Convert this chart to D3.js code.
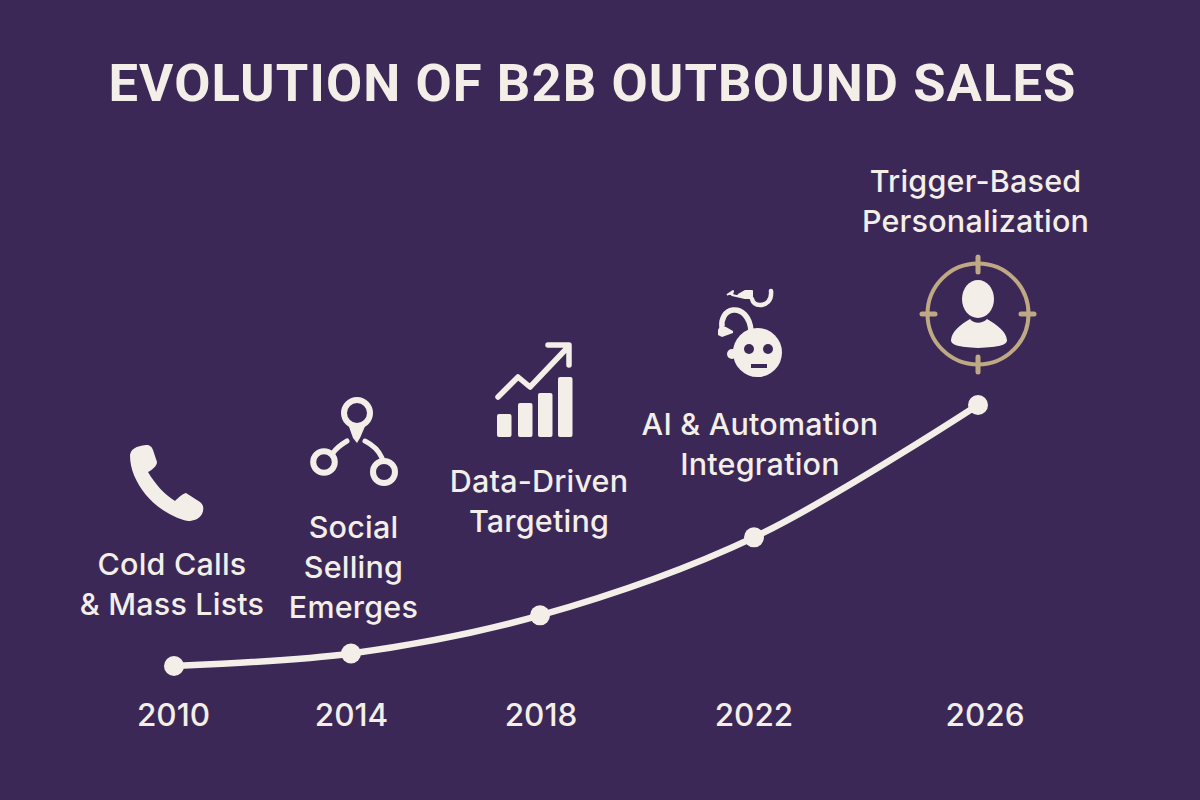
<!DOCTYPE html>
<html>
<head>
<meta charset="utf-8">
<script src="https://cdn.jsdelivr.net/npm/d3@7"></script>
<style>
html, body { margin: 0; padding: 0; background: #3b2857; }
text { font-family: "Inter", "Noto Sans", sans-serif; fill: #f3efe8; }
</style>
</head>
<body>
<div id="vis"></div>
<script>
const title = "EVOLUTION OF B2B OUTBOUND SALES";
const years = [2010, 2014, 2018, 2022, 2026];
// adoption level, 0 - 100
const levels = [0, 4.8, 19.4, 49.3, 100];
const labels = [
  ["Cold Calls", "& Mass Lists"],
  ["Social", "Selling", "Emerges"],
  ["Data-Driven", "Targeting"],
  ["AI & Automation", "Integration"],
  ["Trigger-Based", "Personalization"]
];
const labelX = [172, 353.5, 539, 760, 975.5];
const labelY = [564, 527, 481, 424, 181];
const tickX = [173.5, 351.5, 541, 754, 985];

const cream = "#f3efe8";
const tan = "#bfa983";
const bg = "#3b2857";

const svg = d3.select("#vis").append("svg")
  .attr("width", 1200).attr("height", 800)
  .style("display", "block");

svg.append("rect").attr("width", 1200).attr("height", 800).attr("fill", bg);

svg.append("text")
  .attr("x", 592.5).attr("y", 101)
  .attr("text-anchor", "middle")
  .style("font-family", "Roboto, Inter, sans-serif")
  .attr("font-size", 52.5).attr("font-weight", 700)
  .attr("letter-spacing", 1.1)
  .text(title);

// x is not linear in the years on the picture, so use a piecewise scale
const x = d3.scaleLinear().domain(years).range([174, 351, 540, 754, 978]);
const y = d3.scaleLinear().domain([0, 100]).range([666, 405]);

const line = d3.line()
  .x((d, i) => x(years[i]))
  .y(d => y(d))
  .curve(d3.curveCatmullRom.alpha(0.5));

svg.append("path")
  .attr("d", line(levels))
  .attr("fill", "none")
  .attr("stroke", cream)
  .attr("stroke-width", 6.5)
  .attr("stroke-linecap", "round");

svg.selectAll("circle.pt").data(levels).enter().append("circle")
  .attr("class", "pt")
  .attr("cx", (d, i) => x(years[i]))
  .attr("cy", d => y(d))
  .attr("r", 10)
  .attr("fill", cream);

// year labels
svg.selectAll("text.year").data(years).enter().append("text")
  .attr("class", "year")
  .attr("x", (d, i) => tickX[i])
  .attr("y", 726)
  .attr("text-anchor", "middle")
  .attr("font-size", 31.5)
  .attr("font-weight", 500)
  .text(d => d);

// milestone labels
labels.forEach((rows, i) => {
  rows.forEach((r, j) => {
    svg.append("text")
      .attr("x", labelX[i])
      .attr("y", labelY[i] + 11 + j * 40)
      .attr("text-anchor", "middle")
      .attr("font-size", 30.5)
      .attr("font-weight", 500)
      .attr("letter-spacing", 0.2)
      .text(r);
  });
});

// ---- icons ----

// phone
svg.append("path")
  .attr("d", "M130 455 C131 449 136 446 146 445 C150 445 152 447 153 450 L157 462 C157 466 152 470 148 472 C155 484 164 494 175 501 C178 498 182 494 186 493 L200 502 C204 505 204 510 202 514 C199 519 194 521 188 521 C172 518 155 506 146 495 C136 482 130 470 130 455 Z")
  .attr("fill", cream);

// social selling
const social = svg.append("g")
  .attr("fill", "none").attr("stroke", cream).attr("stroke-width", 6);
social.append("circle").attr("cx", 357).attr("cy", 413).attr("r", 13);
social.append("circle").attr("cx", 324).attr("cy", 462).attr("r", 10.8);
social.append("circle").attr("cx", 384).attr("cy", 472).attr("r", 11);
social.append("path").attr("d", "M333 453 C337 447 342 444 347 441").attr("stroke-width", 5).attr("stroke-linecap", "round");
social.append("path").attr("d", "M365 441 C373 445 379 451 382 458").attr("stroke-width", 5).attr("stroke-linecap", "round");
svg.append("path").attr("d", "M348 424 L366 424 L360 438 L357 443 L353 438 Z").attr("fill", cream);

// data chart
const barX = [497, 518, 538, 558];
const barTop = [414, 403, 393, 377];
svg.append("g").attr("fill", cream).selectAll("rect").data(barX).enter().append("rect")
  .attr("x", d => d)
  .attr("y", (d, i) => barTop[i])
  .attr("width", 14.5)
  .attr("height", (d, i) => 437 - barTop[i])
  .attr("rx", 2);
svg.append("path")
  .attr("d", "M498 397 L518 377 L530 387 L568 347 M548 345 L569 345 L569 365")
  .attr("fill", "none").attr("stroke", cream).attr("stroke-width", 5.5)
  .attr("stroke-linecap", "round").attr("stroke-linejoin", "round");

// robot
const robot = svg.append("g");
robot.append("ellipse").attr("cx", 757.5).attr("cy", 352.5).attr("rx", 24.5).attr("ry", 24.5).attr("fill", cream);
robot.append("circle").attr("cx", 732).attr("cy", 354).attr("r", 5).attr("fill", cream);
robot.append("circle").attr("cx", 749).attr("cy", 349).attr("r", 5).attr("fill", bg);
robot.append("circle").attr("cx", 768).attr("cy", 349).attr("r", 5).attr("fill", bg);
robot.append("rect").attr("x", 751).attr("y", 364).attr("width", 16).attr("height", 4).attr("fill", bg);
robot.append("path").attr("d", "M751 331 C750 316 741 309 733 310 C725 311 721 319 722 327")
  .attr("fill", "none").attr("stroke", cream).attr("stroke-width", 5.5);
robot.append("path").attr("d", "M718 330 L720 326 L726 327 L733 331 L733 333 L722 337 L718 335 Z").attr("fill", cream);
robot.append("path").attr("d", "M727 295 L733 291 L732 295 L745 298 L752 298 L752 291 L745 291 L738 295")
  .attr("fill", cream).attr("stroke", cream).attr("stroke-width", 2).attr("stroke-linejoin", "round");
robot.append("path").attr("d", "M771 291 C772 301 766 305 760 305 C756 305 753 303 752 299")
  .attr("fill", "none").attr("stroke", cream).attr("stroke-width", 4.5).attr("stroke-linecap", "round");

// target + person
const target = svg.append("g");
target.append("circle").attr("cx", 978).attr("cy", 314).attr("r", 50.5)
  .attr("fill", "none").attr("stroke", tan).attr("stroke-width", 4);
const crossX1 = [978, 978, 922, 1021];
const crossY1 = [257, 357, 314, 314];
const crossX2 = [978, 978, 935, 1034];
const crossY2 = [272, 372, 314, 314];
target.selectAll("line").data(crossX1).enter().append("line")
  .attr("x1", d => d)
  .attr("y1", (d, i) => crossY1[i])
  .attr("x2", (d, i) => crossX2[i])
  .attr("y2", (d, i) => crossY2[i])
  .attr("stroke", tan).attr("stroke-width", 5).attr("stroke-linecap", "round");
target.append("ellipse").attr("cx", 978).attr("cy", 299).attr("rx", 16).attr("ry", 19).attr("fill", cream);
target.append("path").attr("d", "M951 340 C952 331 960 325 970 319 C974 324 982 324 987 319 C997 325 1006 331 1007 340 C1007 345 1000 347 978 348 C958 347 951 345 951 340 Z").attr("fill", cream);
</script>
</body>
</html>
